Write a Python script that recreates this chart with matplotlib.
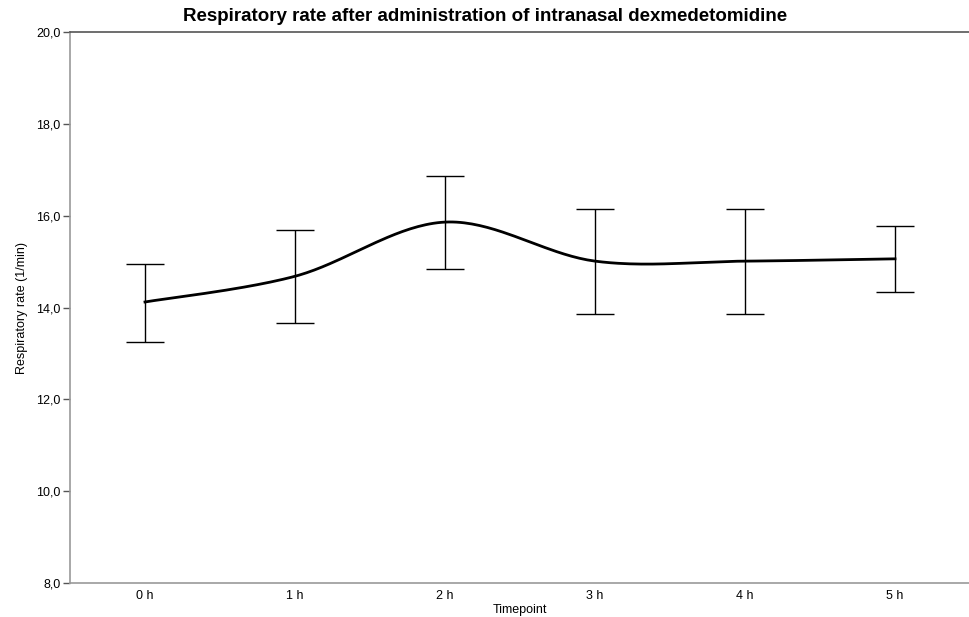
import numpy as np
import matplotlib
matplotlib.use("Agg")
import matplotlib.pyplot as plt
from matplotlib.ticker import FuncFormatter

plt.rcParams['font.family'] = ['Liberation Sans', 'DejaVu Sans']

# data
timepoints = ["0 h", "1 h", "2 h", "3 h", "4 h", "5 h"]
resp_mean = [14.12, 14.68, 15.86, 15.01, 15.01, 15.06]
resp_upper = [14.95, 15.69, 16.86, 16.14, 16.14, 15.77]
resp_lower = [13.25, 13.66, 14.84, 13.86, 13.86, 14.34]


def cardinal_curve(x, y, n=40):
    """catmull-rom style smoothing like d3.curveCardinal (tension 0)"""
    x = np.asarray(x, float)
    y = np.asarray(y, float)
    px = np.concatenate([[x[0]], x, [x[-1]]])
    py = np.concatenate([[y[0]], y, [y[-1]]])
    xs, ys = [], []
    t = np.linspace(0, 1, n)
    for i in range(1, len(px) - 2):
        p0 = np.array([px[i], py[i]])
        p3 = np.array([px[i + 1], py[i + 1]])
        c1 = p0 + (p3 - np.array([px[i - 1], py[i - 1]])) / 6
        c2 = p3 - (np.array([px[i + 2], py[i + 2]]) - p0) / 6
        b = ((1 - t) ** 3)[:, None] * p0 + (3 * (1 - t) ** 2 * t)[:, None] * c1 \
            + (3 * (1 - t) * t ** 2)[:, None] * c2 + (t ** 3)[:, None] * p3
        xs.append(b[:, 0])
        ys.append(b[:, 1])
    return np.concatenate(xs), np.concatenate(ys)


fig = plt.figure(figsize=(9.7, 6.17), dpi=100)
ax = fig.add_axes([70 / 970, 34 / 617, 900 / 970, 551 / 617])

xpos = np.arange(len(timepoints))
cx, cy = cardinal_curve(xpos, resp_mean)
ax.plot(cx, cy, color="black", lw=2, zorder=3)

mean = np.array(resp_mean)
yerr = [mean - np.array(resp_lower), np.array(resp_upper) - mean]
ax.errorbar(xpos, mean, yerr=yerr, fmt="none", ecolor="black", elinewidth=1,
            capsize=14, capthick=1, zorder=2)

ax.set_xlim(-0.5, len(timepoints) - 0.5)
ax.set_ylim(8, 20)
ax.set_yticks(np.arange(8, 21, 2))
ax.yaxis.set_major_formatter(FuncFormatter(lambda v, p: f"{v:.1f}".replace(".", ",")))
ax.set_xticks(xpos)
ax.set_xticklabels(timepoints)

ax.tick_params(axis="x", length=0, pad=5, labelsize=9)
ax.tick_params(axis="y", length=5, width=1, color="#555555", pad=2, labelsize=9)

ax.spines["right"].set_visible(False)
ax.spines["left"].set_color("#999999")
ax.spines["bottom"].set_color("#999999")
ax.spines["top"].set_color("#555555")
for s in ax.spines.values():
    s.set_linewidth(1.2)

ax.set_xlabel("Timepoint", fontsize=9, labelpad=1.5)
ax.set_ylabel("Respiratory rate (1/min)", fontsize=9, labelpad=6)
fig.suptitle("Respiratory rate after administration of intranasal dexmedetomidine",
             x=0.5, y=1 - 8 / 617, va="top", fontsize=13.5, fontweight="bold")

fig.savefig("out.png", dpi=100)
